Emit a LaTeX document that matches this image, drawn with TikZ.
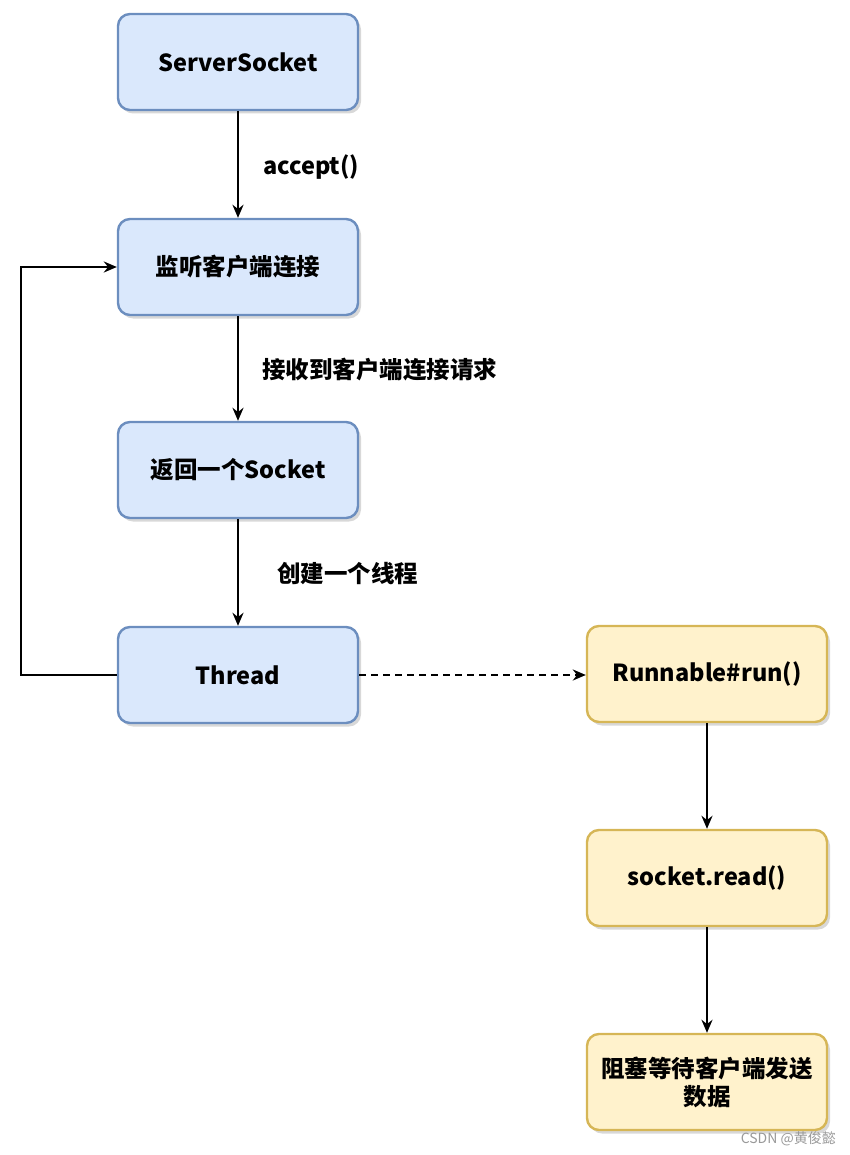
\documentclass[tikz,border=0pt]{standalone}
\usepackage{fontspec}
\setmainfont{Noto Sans CJK SC}
\usetikzlibrary{arrows.meta,shadows}
\definecolor{bfill}{HTML}{DAE8FC}
\definecolor{bdraw}{HTML}{6C8EBF}
\definecolor{yfill}{HTML}{FFF2CC}
\definecolor{ydraw}{HTML}{D6B656}
\tikzset{
  box/.style={rectangle, rounded corners=12pt, minimum width=240pt, minimum height=96pt,
    line width=2.4pt, align=center, font=\fontsize{23.5}{28}\selectfont\bfseries, text width=226pt,
    drop shadow={shadow xshift=3pt, shadow yshift=-3.5pt, fill=black!30}},
  bluebox/.style={box, fill=bfill, draw=bdraw},
  yellowbox/.style={box, fill=yfill, draw=ydraw},
  conn/.style={line width=2.6pt, -{Stealth[length=13pt,width=11pt]}},
  lbl/.style={font=\fontsize{23.5}{28}\selectfont\bfseries, anchor=west, inner sep=0pt}
}
\begin{document}
\begin{tikzpicture}[x=1pt,y=-1pt]
\useasboundingbox (0,0) rectangle (850,1155);
\node[bluebox] (ss) at (238,62) {ServerSocket};
\node[bluebox] (listen) at (238,267) {监听客户端连接};
\node[bluebox] (ret) at (238,470) {返回一个Socket};
\node[bluebox] (th) at (238,675) {Thread};
\node[yellowbox] (run) at (707,674) {Runnable\#run()};
\node[yellowbox] (rd) at (707,878) {socket.read()};
\node[yellowbox] (blk) at (707,1082) {阻塞等待客户端发送\\数据};

\draw[conn] (ss) -- (listen);
\draw[conn] (listen) -- (ret);
\draw[conn] (ret) -- (th);
\draw[conn] (th.west) -- ++(-96,0) |- (listen.west);
\draw[conn, dashed, dash pattern=on 7pt off 5pt] (th.east) -- (run.west |- th.east);
\draw[conn] (run) -- (rd);
\draw[conn] (rd) -- (blk);

\node[lbl] (l1) at (263,167) {accept()};
\node[lbl] (l2) at (262,370) {接收到客户端连接请求};
\node[lbl] (l3) at (277,574) {创建一个线程};

\node[font=\fontsize{14}{16}\selectfont, text=black!40, anchor=east, inner sep=0pt] (wm) at (836,1139) {CSDN @黄俊懿};
\end{tikzpicture}
\end{document}
